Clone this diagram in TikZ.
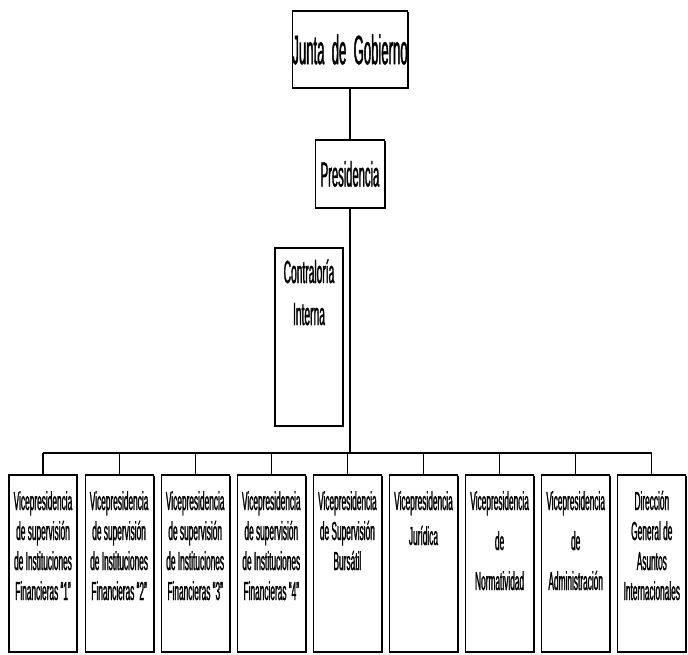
\documentclass[tikz,border=0pt]{standalone}
\usepackage{fontspec}
\newfontfamily\narrowsf[FakeStretch=0.32,FakeBold=1]{Liberation Sans}
\usetikzlibrary{positioning,shadows}

\begin{document}
\begin{tikzpicture}[
  x=1pt, y=-1pt,
  node distance=7pt,
  unit/.style={draw,line width=1.1pt,fill=white,inner sep=0pt,align=flush center,
    drop shadow={shadow xshift=1.4pt,shadow yshift=-1.4pt,fill=black,opacity=1}},
  vp/.style={unit,minimum width=68pt,text width=68pt,minimum height=177pt,
    text height=35pt,text depth=142pt,font=\narrowsf\fontsize{26}{30}\selectfont},
  lead/.style={font=\narrowsf\fontsize{26}{#1}\selectfont},
  link/.style={line width=1.2pt}
]
\useasboundingbox (0,0) rectangle (688,654);

\node[unit,minimum width=113pt,minimum height=77pt,font=\narrowsf\fontsize{41}{41}\selectfont] (junta) at (350,49.5) {Junta\ \ de\ \ Gobierno};
\node[unit,minimum width=69pt,minimum height=68pt,font=\narrowsf\fontsize{35}{35}\selectfont] (pres) at (350,174) {Presidencia};
\node[unit,minimum width=68pt,text width=68pt,text height=35pt,text depth=143pt,font=\narrowsf\fontsize{32}{42}\selectfont] (contra) at (309,337) {Contraloría\\Interna};

\node[vp] (vp1) at (43,563.5) {Vicepresidencia\\de supervisión\\de Instituciones\\Financieras “1”};
\node[vp,right=of vp1] (vp2) {Vicepresidencia\\de supervisión\\de Instituciones\\Financieras “2”};
\node[vp,right=of vp2] (vp3) {Vicepresidencia\\de supervisión\\de Instituciones\\Financieras “3”};
\node[vp,right=of vp3] (vp4) {Vicepresidencia\\de supervisión\\de Instituciones\\Financieras “4”};
\node[vp,right=of vp4] (vpbur) {Vicepresidencia\\de Supervisión\\Bursátil};
\node[vp,lead=35,right=of vpbur] (vpjur) {Vicepresidencia\\Jurídica};
\node[vp,lead=40,right=of vpjur] (vpnorm) {Vicepresidencia\\de\\Normatividad};
\node[vp,lead=40,right=of vpnorm] (vpadm) {Vicepresidencia\\de\\Administración};
\node[vp,right=of vpadm] (dgai) {Dirección\\General de\\Asuntos\\Internacionales};

\coordinate (bus) at (350,453);

\draw[link] (junta) -- (pres);
\draw[link] (pres) -- (pres |- bus);
\draw[link] (bus -| vp1.north) -- (bus -| dgai.north);
\foreach \n in {vp1,vp2,vp3,vp4,vpbur,vpjur,vpnorm,vpadm,dgai}
  \draw[link] (bus -| \n.north) -- (\n.north);
\end{tikzpicture}
\end{document}
